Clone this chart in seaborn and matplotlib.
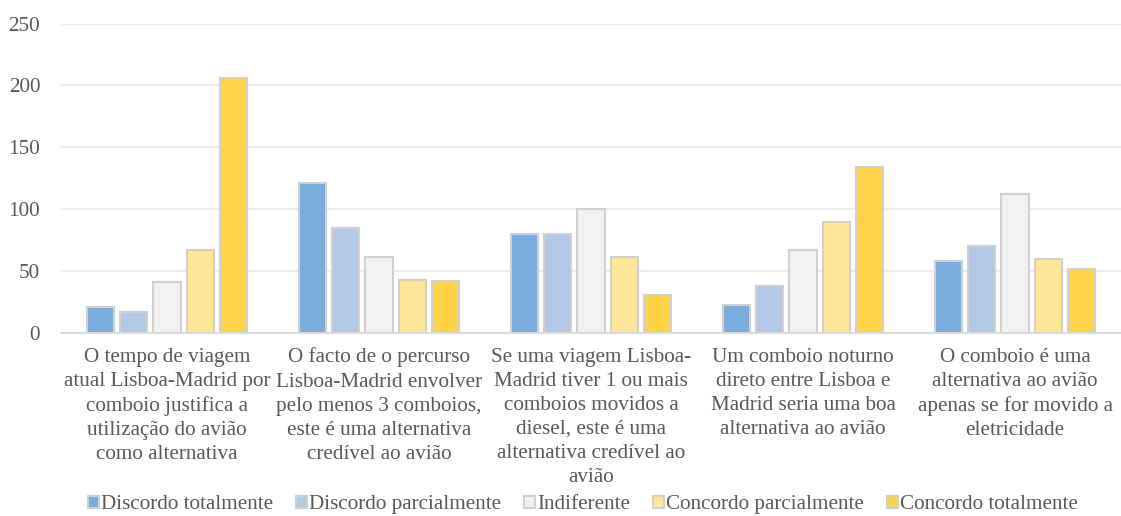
import pandas as pd
import matplotlib.pyplot as plt
import seaborn as sns

# Dados
afirmacoes = [
    "O tempo de viagem\natual Lisboa-Madrid por\ncomboio justifica a\nutilização do avião\ncomo alternativa",
    "O facto de o percurso\nLisboa-Madrid envolver\npelo menos 3 comboios,\neste é uma alternativa\ncredível ao avião",
    "Se uma viagem Lisboa-\nMadrid tiver 1 ou mais\ncomboios movidos a\ndiesel, este é uma\nalternativa credível ao\navião",
    "Um comboio noturno\ndireto entre Lisboa e\nMadrid seria uma boa\nalternativa ao avião",
    "O comboio é uma\nalternativa ao avião\napenas se for movido a\neletricidade",
]
respostas = ["Discordo totalmente", "Discordo parcialmente", "Indiferente",
             "Concordo parcialmente", "Concordo totalmente"]
discordo_totalmente = [21, 121, 80, 23, 58]
discordo_parcialmente = [17, 85, 80, 38, 70]
indiferente = [41, 61, 100, 67, 112]
concordo_parcialmente = [67, 43, 61, 90, 60]
concordo_totalmente = [206, 42, 31, 134, 52]
cores = ["#7AACDC", "#B4C7E7", "#F2F2F2", "#FFE699", "#FFD347"]

series = [discordo_totalmente, discordo_parcialmente, indiferente,
          concordo_parcialmente, concordo_totalmente]
linhas = []
for resp, valores in zip(respostas, series):
    for af, v in zip(afirmacoes, valores):
        linhas.append({"afirmacao": af, "resposta": resp, "contagem": v})
df = pd.DataFrame(linhas)

sns.set_style("white")
plt.rcParams['font.family'] = ['Liberation Serif', 'DejaVu Serif']
texto = '#595959'
tam = 15.2

fig = plt.figure(figsize=(11.21, 5.16), dpi=100)
ax = fig.add_axes([61 / 1121, 183 / 516, 1 - 61 / 1121, 309.5 / 516])

sns.barplot(data=df, x="afirmacao", y="contagem", hue="resposta",
            order=afirmacoes, hue_order=respostas,
            palette=dict(zip(respostas, cores)), saturation=1,
            width=0.78, gap=0.18, edgecolor="#D0D0D0", linewidth=1.5,
            ax=ax)

ax.set_ylim(0, 250)
ax.set_yticks(range(0, 251, 50))
ax.set_xlim(-0.5, len(afirmacoes) - 0.5)
ax.yaxis.grid(True, color='#EBEBEB', linewidth=1.3)
ax.set_axisbelow(True)
for lado in ['left', 'right', 'top']:
    ax.spines[lado].set_visible(False)
ax.spines['bottom'].set_color('#D9D9D9')
ax.spines['bottom'].set_linewidth(1.3)
ax.tick_params(axis='both', length=0, labelsize=tam, labelcolor=texto)
ax.tick_params(axis='y', pad=15)
ax.tick_params(axis='x', pad=10.5)
for lbl in ax.get_xticklabels():
    lbl.set_linespacing(1.36)
ax.set_xlabel('')
ax.set_ylabel('')

handles, labels = ax.get_legend_handles_labels()
ax.get_legend().remove()
fig.legend(handles, labels, loc='center', bbox_to_anchor=(0.52, 0.022),
           ncol=5, frameon=False, fontsize=tam, labelcolor=texto,
           handlelength=0.5, handleheight=0.5, handletextpad=0.1,
           columnspacing=1.1, borderaxespad=0)

fig.savefig('out.png', dpi=100)
